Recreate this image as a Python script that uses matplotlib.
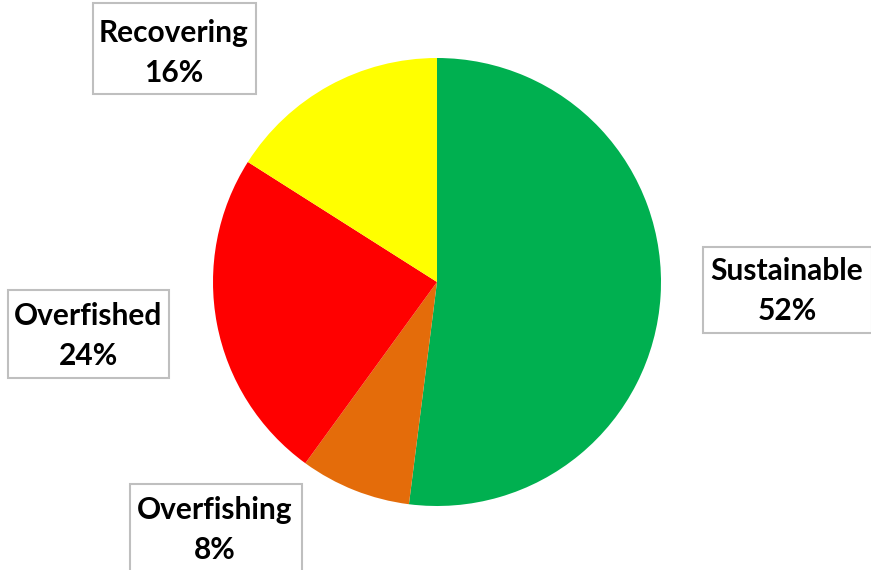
import matplotlib.pyplot as plt
from matplotlib.patches import Rectangle

# Fish stock status shares
categories = ["Sustainable", "Overfishing", "Overfished", "Recovering"]
shares = [52, 8, 24, 16]
colors = ["#00B050", "#E46C0A", "#FF0000", "#FFFF00"]

# label boxes in pixel coords (y measured from top): x0, y0, x1, y1
boxes = [(703, 247, 872, 333), (130, 484, 302, 572), (8, 290, 169, 378), (93, 3, 256, 94)]
text_pos = [(787, 291), (215, 530), (88, 336), (174, 53)]

W, H = 871, 570
fig = plt.figure(figsize=(W / 100, H / 100), dpi=100)
ax = fig.add_axes([0, 0, 1, 1])

ax.pie(shares, colors=colors, startangle=90, counterclock=False,
       center=(437, H - 282), radius=224, frame=True,
       wedgeprops={"linewidth": 0})
ax.set_xlim(0, W)
ax.set_ylim(0, H)
ax.set_aspect("equal")
ax.axis("off")

for cat, val, (x0, y0, x1, y1), (tx, ty) in zip(categories, shares, boxes, text_pos):
    ax.add_patch(Rectangle((x0, H - y1), x1 - x0, y1 - y0, facecolor="white",
                           edgecolor="#BFBFBF", linewidth=1.5, zorder=3))
    ax.text(tx, H - ty, f"{cat}\n{val}%", ha="center", va="center",
            fontsize=21.5, fontweight="bold", family="Lato", linespacing=1.5,
            color="black", zorder=4)

fig.savefig("out.png", dpi=100)
